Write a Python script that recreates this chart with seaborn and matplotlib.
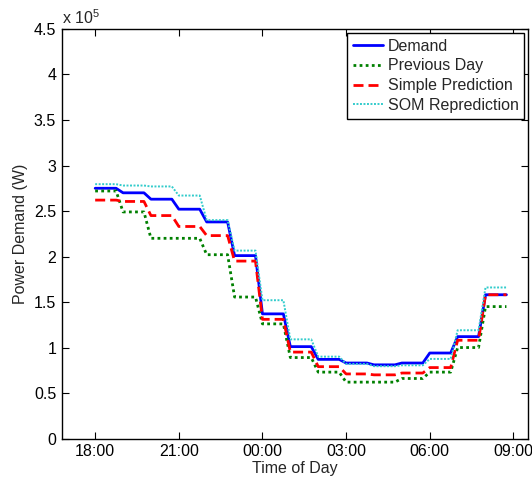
import matplotlib
matplotlib.use('Agg')
import matplotlib.pyplot as plt
import matplotlib.dates as mdates
import seaborn as sns
import numpy as np
import pandas as pd

# hourly values (units of 10^5 W), 18:00 through 08:00 next day
hours = pd.date_range('2012-01-01 18:00', periods=15, freq='h')
demand = [2.75, 2.70, 2.63, 2.52, 2.38, 2.01, 1.37, 1.01, 0.87, 0.83, 0.81, 0.83, 0.94, 1.12, 1.58]
previous_day = [2.72, 2.49, 2.20, 2.20, 2.02, 1.555, 1.26, 0.89, 0.73, 0.62, 0.62, 0.66, 0.73, 1.00, 1.45]
simple_pred = [2.62, 2.605, 2.45, 2.33, 2.23, 1.95, 1.31, 0.95, 0.79, 0.71, 0.70, 0.72, 0.78, 1.08, 1.58]
som_pred = [2.795, 2.78, 2.77, 2.67, 2.40, 2.065, 1.52, 1.09, 0.90, 0.82, 0.795, 0.805, 0.875, 1.19, 1.66]

series_names = ['Demand', 'Previous Day', 'Simple Prediction', 'SOM Reprediction']
series_vals = [demand, previous_day, simple_pred, som_pred]
colors = ['#0000ff', '#008000', '#ff0000', '#33cccc']
styles = ['-', (0, (1, 1.2)), (0, (3.6, 1.8)), (0, (1, 0.8))]
widths = [2.0, 2.0, 2.0, 1.4]

# each hourly value is held over 15 min samples
times = pd.date_range(hours[0], periods=len(hours) * 4, freq='15min')

sns.set_style('ticks')
plt.rcParams['font.family'] = ['Liberation Sans', 'DejaVu Sans']
plt.rcParams['mathtext.fontset'] = 'custom'
plt.rcParams['mathtext.rm'] = 'Liberation Sans'

fig = plt.figure(figsize=(5.32, 4.83), dpi=100)
ax = fig.add_axes([0.116, 0.092, 0.877, 0.848])

for name, vals, c, ls, lw in zip(series_names, series_vals, colors, styles, widths):
    df = pd.DataFrame({'time': times, 'power': np.repeat(vals, 4)})
    sns.lineplot(data=df, x='time', y='power', ax=ax, color=c, linestyle=ls,
                 linewidth=lw, label=name)

ax.set_xlim(pd.Timestamp('2012-01-01 16:48'), pd.Timestamp('2012-01-02 09:32'))
ax.set_ylim(0, 4.5)
ax.set_yticks(np.arange(0, 4.51, 0.5))
ax.yaxis.set_major_formatter(plt.FuncFormatter(lambda v, p: f'{v:g}'))
ax.xaxis.set_major_locator(mdates.HourLocator(byhour=[0, 3, 6, 9, 18, 21]))
ax.xaxis.set_major_formatter(mdates.DateFormatter('%H:%M'))

ax.tick_params(direction='in', length=5, width=0.8, top=True, right=True,
               labelsize=11.5, colors='black', pad=4)
for s in ax.spines.values():
    s.set_visible(True)
    s.set_linewidth(1.0)
    s.set_color('black')

ax.set_xlabel('Time of Day', fontsize=11.5, labelpad=1)
ax.set_ylabel('Power Demand (W)', fontsize=11.5, labelpad=4)
ax.text(0.0, 1.004, r'x 10$^{5}$', transform=ax.transAxes, fontsize=11.5,
        ha='left', va='bottom')

leg = ax.legend(loc='upper right', fontsize=11.5, frameon=True, fancybox=False,
                edgecolor='black', framealpha=1, borderaxespad=0.25,
                handlelength=1.9, handletextpad=0.3, labelspacing=0.3,
                borderpad=0.35)
leg.get_frame().set_linewidth(1.0)

fig.savefig('out.png', dpi=100)
